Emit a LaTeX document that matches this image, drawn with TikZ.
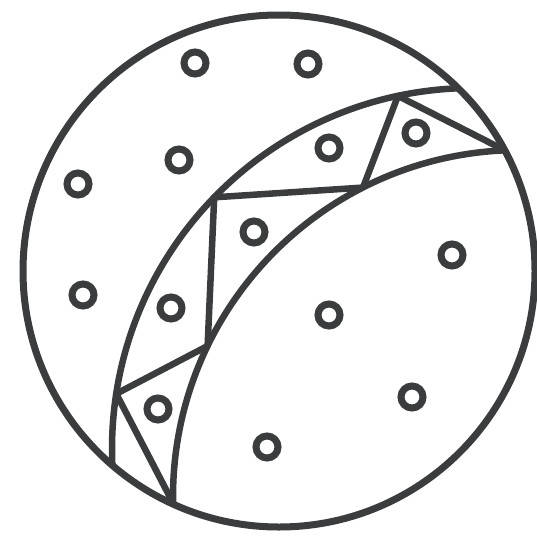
\documentclass[tikz,border=0pt]{standalone}
\usetikzlibrary{calc}
\definecolor{inkgray}{RGB}{58,60,62}
\tikzset{
    % Disc outline
    rim/.style={draw=inkgray, line width=7pt},
    % Band arcs and zigzag
    bandline/.style={draw=inkgray, line width=6.5pt, line join=round, line cap=round},
    % Small rings
    ring/.style={draw=inkgray, line width=7pt},
}
\begin{document}
\begin{tikzpicture}[x=1pt, y=-1pt]
\useasboundingbox (0,0) rectangle (536,538);

\coordinate (c) at (279,271);
\coordinate (o1) at (473,449);
\coordinate (o2) at (520,497);

% Band arcs, clipped to the disc
\begin{scope}
  \clip (c) circle (256);
  \draw[bandline] (o1) circle (361);
  \draw[bandline] (o2) circle (347);
\end{scope}

% Zigzag across the band
\coordinate (z1) at ($(o2)+(179:347)$);
\coordinate (z2) at ($(o1)+(188.8:361)$);
\coordinate (z3) at ($(o2)+(205.8:347)$);
\coordinate (z4) at ($(o1)+(224.2:361)$);
\coordinate (z5) at ($(o2)+(243.1:347)$);
\coordinate (z6) at ($(o1)+(258:361)$);
\coordinate (z7) at ($(o2)+(267.5:347)$);
\draw[bandline] (z1) -- (z2) -- (z3) -- (z4) -- (z5) -- (z6) -- (z7);

% Disc
\draw[rim] (c) circle (256);

% Rings
\foreach \rx/\ry in {195/63, 308/64, 179/160, 78/184, 329/148, 416/133,
                     254/232, 452/255, 83/295, 171/308, 329/315,
                     158/409, 412/397, 267/447}
  \draw[ring] (\rx,\ry) circle (11);
\end{tikzpicture}
\end{document}
